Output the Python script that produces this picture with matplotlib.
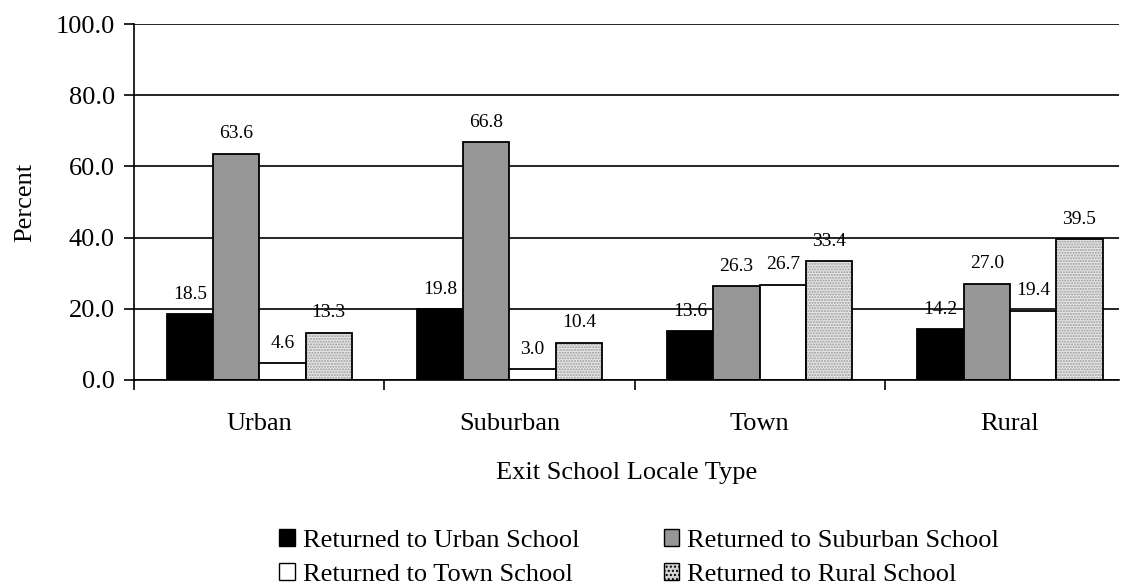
import matplotlib
matplotlib.use("Agg")
import matplotlib.pyplot as plt
from matplotlib.patches import Patch
import numpy as np

plt.rcParams['font.family'] = ['Liberation Serif', 'DejaVu Serif']

locales = ["Urban", "Suburban", "Town", "Rural"]
series_names = ["Returned to Urban School", "Returned to Suburban School",
                "Returned to Town School", "Returned to Rural School"]
urban = [18.5, 19.8, 13.6, 14.2]
suburban = [63.6, 66.8, 26.3, 27.0]
town = [4.6, 3.0, 26.7, 19.4]
rural = [13.3, 10.4, 33.4, 39.5]
yticks = [0, 20, 40, 60, 80, 100]

fig = plt.figure(figsize=(11.27, 5.88), dpi=100)
ax = fig.add_axes([0.119, 0.354, 0.874, 0.605])

x = np.arange(len(locales))
w = 0.185
values = [urban, suburban, town, rural]
faces = ["black", "#969696", "white", "#d4d4d4"]
for i, vals in enumerate(values):
    pos = x + (i - 1.5) * w
    if i == 3:
        # dotted fill, then black outline on top
        ax.bar(pos, vals, w, color="#e6e6e6", edgecolor="#9a9a9a",
               hatch="......", linewidth=0, zorder=2)
        ax.bar(pos, vals, w, facecolor="none", edgecolor="black",
               linewidth=1.3, zorder=2.1)
    else:
        ax.bar(pos, vals, w, color=faces[i], edgecolor="black",
               linewidth=1.3, zorder=2)
    for p, v in zip(pos, vals):
        ax.text(p, v + 3.2, "%.1f" % v, ha="center", va="bottom",
                fontsize=14, zorder=0.4)

ax.set_ylim(0, 100)
ax.set_xlim(-0.5, 3.436)
ax.set_yticks(yticks)
ax.set_yticklabels(["%.1f" % t for t in yticks], fontsize=19)
ax.yaxis.grid(True, color="black", linewidth=1.2, zorder=1)
ax.set_axisbelow(True)

ax.set_xticks(x)
ax.set_xticklabels(locales, fontsize=19)
ax.set_xticks(np.arange(len(locales)) - 0.5, minor=True)
ax.tick_params(axis="x", which="major", length=0, pad=24)
ax.tick_params(axis="x", which="minor", length=7, width=1.2, direction="out")
ax.tick_params(axis="y", length=7, width=1.2, direction="out", pad=7)

for s in ["top", "right"]:
    ax.spines[s].set_visible(False)
for s in ["left", "bottom"]:
    ax.spines[s].set_linewidth(1.2)

ax.set_ylabel("Percent", fontsize=19, labelpad=14)
ax.set_xlabel("Exit School Locale Type", fontsize=19, labelpad=19)

# legend fills column-wise, so order handles to give the reference rows
leg_handles = [Patch(facecolor="black", edgecolor="black"),
               Patch(facecolor="white", edgecolor="black"),
               Patch(facecolor="#969696", edgecolor="black"),
               Patch(facecolor="#d4d4d4", edgecolor="black", hatch="....")]
leg_labels = [series_names[0], series_names[2], series_names[1], series_names[3]]
fig.legend(leg_handles, leg_labels, loc="center", ncol=2,
           bbox_to_anchor=(0.567, 0.052), frameon=False, fontsize=19,
           handlelength=0.6, handleheight=0.6, handletextpad=0.3,
           columnspacing=3.2, labelspacing=0.42, borderpad=0.2)

fig.savefig("out.png", dpi=100)
